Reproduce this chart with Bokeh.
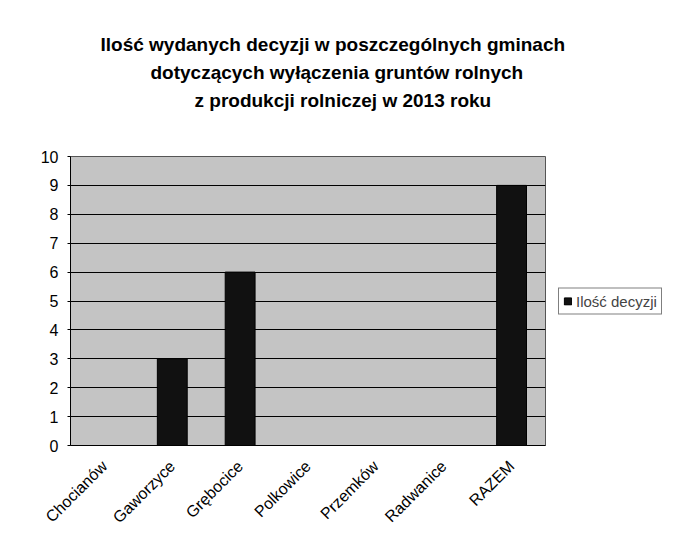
from math import pi
from bokeh.plotting import figure
from bokeh.models import ColumnDataSource, Legend, LegendItem, SingleIntervalTicker, Title
from bokeh.embed import file_html
from bokeh.resources import INLINE

categories = ["Chocianów", "Gaworzyce", "Grębocice", "Polkowice", "Przemków", "Radwanice", "RAZEM"]
values = [0, 3, 6, 0, 0, 0, 9]
series_name = "Ilość decyzji"
title_lines = [
    "Ilość wydanych decyzji w poszczególnych gminach",
    "dotyczących wyłączenia gruntów rolnych",
    "z produkcji rolniczej w 2013 roku",
]
title_offsets = [30, 80, 124]

src = ColumnDataSource(dict(cat=categories, val=values))

p = figure(x_range=categories, y_range=(0, 10), frame_width=475, frame_height=289,
           output_backend="svg", toolbar_location=None,
           min_border_left=70, min_border_right=0, min_border_top=156, min_border_bottom=96)
p.title = None
# spacer between the plot area and the title block
p.add_layout(Title(text=" ", text_font_size="19px", standoff=20), "above")
for line, off in reversed(list(zip(title_lines, title_offsets))):
    t = Title(text=line, align="left", text_font="Liberation Sans",
              text_font_size="19px", text_font_style="bold", text_color="black",
              standoff=5, offset=off)
    p.add_layout(t, "above")

r = p.vbar(x="cat", top="val", width=0.44, source=src, fill_color="#111111", line_color="#000000")

p.background_fill_color = "#c4c4c4"
p.border_fill_color = "white"
p.outline_line_color = "#555555"

p.ygrid.grid_line_color = "black"
p.ygrid.grid_line_width = 1
p.xgrid.grid_line_color = None
p.yaxis.ticker = SingleIntervalTicker(interval=1)
p.yaxis.major_label_text_font = "Liberation Sans"
p.yaxis.major_label_text_font_size = "16px"
p.yaxis.major_label_text_color = "black"
p.yaxis.major_label_standoff = 8
p.yaxis.minor_tick_line_color = None
p.yaxis.major_tick_in = 0
p.yaxis.major_tick_out = 3
p.yaxis.axis_line_color = "black"
p.xaxis.axis_line_color = "black"
p.xaxis.major_tick_line_color = None
p.xaxis.major_label_orientation = pi / 4
p.xaxis.major_label_text_font = "Liberation Sans"
p.xaxis.major_label_text_font_size = "16px"
p.xaxis.major_label_text_color = "black"
p.xaxis.major_label_standoff = 12

legend = Legend(items=[LegendItem(label=series_name, renderers=[r])], location="center_left",
                label_text_font="Liberation Sans", label_text_font_size="15px",
                border_line_color="black", border_line_width=1, glyph_width=9, glyph_height=9,
                padding=4, margin=13, label_standoff=4, spacing=0, background_fill_color="white",
                background_fill_alpha=1.0)
p.add_layout(legend, "right")

open("out.html", "w").write(file_html(p, INLINE))
